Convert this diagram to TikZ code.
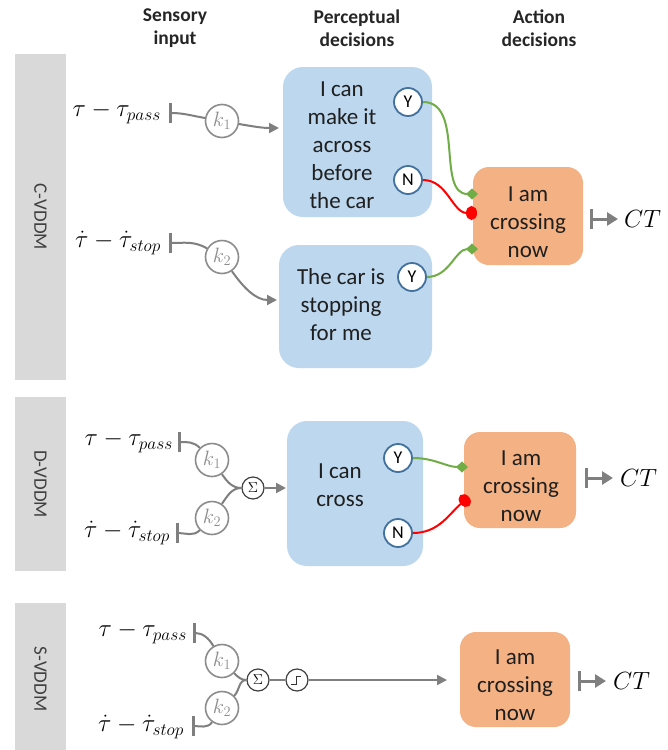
\documentclass[tikz,border=0pt]{standalone}
\usepackage{fontspec}
\setmainfont{Carlito}
\usetikzlibrary{arrows.meta,calc}
\definecolor{bluebox}{HTML}{BDD7EE}
\definecolor{orangebox}{HTML}{F4B183}
\definecolor{greybar}{HTML}{D9D9D9}
\definecolor{conn}{HTML}{7F7F7F}
\definecolor{kgrey}{HTML}{8C8C8C}
\definecolor{ynborder}{HTML}{41719C}
\definecolor{gline}{HTML}{70AD47}
\definecolor{rline}{HTML}{FF0000}
\definecolor{bartext}{HTML}{404040}
\tikzset{
  percbox/.style={fill=bluebox, rounded corners=20pt, inner sep=0pt},
  actbox/.style={fill=orangebox, rounded corners=16pt, inner sep=0pt},
  boxtext/.style={align=center, inner sep=0pt, font=\fontsize{23}{28}\selectfont, text=black!88},
  head/.style={align=center, inner sep=0pt, font=\bfseries\fontsize{19.5}{23}\selectfont, text=black!85},
  sidebar/.style={fill=greybar, inner sep=0pt, minimum width=51pt},
  sidetext/.style={rotate=-90, inner sep=0pt, font=\fontsize{19}{19}\selectfont, text=bartext},
  yn/.style={circle, draw=ynborder, line width=1.8pt, fill=white, minimum size=28pt, inner sep=0pt, font=\fontsize{18}{18}\selectfont},
  kcirc/.style={circle, draw=kgrey, line width=1.6pt, fill=white, minimum size=33pt, inner sep=0pt, text=kgrey, font=\fontsize{21}{21}\selectfont},
  smallcirc/.style={circle, draw=black!75, line width=1.2pt, fill=white, minimum size=22pt, inner sep=0pt, font=\fontsize{15}{15}\selectfont},
  inlabel/.style={anchor=east, inner sep=0pt, font=\fontsize{24}{24}\selectfont},
  ctlabel/.style={anchor=west, inner sep=0pt, font=\fontsize{24}{24}\selectfont},
  teeline/.style={draw=conn, line width=2pt, {Bar[width=20pt,line width=3pt]}-},
  kline/.style={draw=conn, line width=2pt},
  karrow/.style={draw=conn, line width=2pt, -{Triangle[length=10pt,width=10pt]}},
  outarrow/.style={draw=conn, line width=3pt, {Bar[width=20pt]}-{Triangle[length=11pt,width=13pt]}},
  yesline/.style={draw=gline, line width=2pt, -{Diamond[length=12pt,width=11pt]}},
  noline/.style={draw=rline, line width=2pt, -{Circle[length=11pt,width=14pt]}},
}
\begin{document}
\begin{tikzpicture}[x=1pt,y=1pt]
\useasboundingbox (0,0) rectangle (667,-750);
\fill[white] (0,0) rectangle (667,-750);

% headers
\node[head] (hsens) at (175,-28) {Sensory\\input};
\node[head] (hperc) at (357,-28) {Perceptual\\decisions};
\node[head] (hact) at (539,-28) {Action\\decisions};

% side bars
\node[sidebar, minimum height=326pt] (barC) at (40.5,-217) {};
\node[sidetext] (barCt) at (barC.center) {C-VDDM};
\node[sidebar, minimum height=174pt] (barD) at (40.5,-484) {};
\node[sidetext] (barDt) at (barD.center) {D-VDDM};
\node[sidebar, minimum height=147pt] (barS) at (40.5,-676.5) {};
\node[sidetext] (barSt) at (40.5,-679) {S-VDDM};

% ================= C-VDDM =================
\node[inlabel] (passC) at (161,-113) {$\tau-\tau_{pass}$};
\node[inlabel] (stopC) at (161,-243) {$\dot{\tau}-\dot{\tau}_{stop}$};
\coordinate (teeC1) at (169,-113);
\coordinate (teeC2) at (169,-243);
\node[kcirc] (k1C) at (222,-121) {$k_1$};
\node[kcirc] (k2C) at (222,-257) {$k_2$};
\node[percbox, minimum width=149pt, minimum height=150pt] (box1) at (357.5,-142) {};
\node[boxtext] (box1t) at (342,-145) {I can\\make it\\across\\before\\the car};
\node[yn] (Y1C) at (408,-102) {Y};
\node[yn] (N1C) at (408,-180) {N};
\node[percbox, minimum width=153pt, minimum height=123pt] (box2) at (355.5,-306.5) {};
\node[boxtext] (box2t) at (341,-305) {The car is\\stopping\\for me};
\node[yn] (Y2C) at (412,-277) {Y};
\node[actbox, minimum width=110pt, minimum height=98pt] (actC) at (528,-216) {};
\node[boxtext] (actCt) at (528,-222) {I am\\crossing\\now};
\coordinate (aC1) at (279,-128);
\coordinate (aC2) at (277,-300);
\coordinate (g1) at (478,-194);
\coordinate (r1) at (477,-213);
\coordinate (g2) at (478,-249);
\coordinate (oC1) at (590,-219);
\coordinate (oC2) at (618,-219);
\node[ctlabel] (ctC) at (624,-219) {$CT$};

\draw[teeline] (teeC1) to[out=0,in=170] (k1C.170);
\draw[karrow] (k1C.-10) to[out=-10,in=180] (aC1);
\draw[teeline] (teeC2) to[out=0,in=150] (k2C.150);
\draw[karrow] (k2C.-55) to[out=-55,in=180] (aC2);
\draw[yesline] (Y1C.east) to[out=0,in=180] (g1);
\draw[noline] (N1C.east) to[out=0,in=180] (r1);
\draw[yesline] (Y2C.east) to[out=0,in=180] (g2);
\draw[outarrow] (oC1) -- (oC2);

% ================= D-VDDM =================
\node[inlabel] (passD) at (173,-442) {$\tau-\tau_{pass}$};
\node[inlabel] (stopD) at (170,-533) {$\dot{\tau}-\dot{\tau}_{stop}$};
\coordinate (teeD1) at (178,-442);
\coordinate (teeD2) at (176,-533);
\node[kcirc] (k1D) at (212,-460) {$k_1$};
\node[kcirc] (k2D) at (212,-518) {$k_2$};
\node[smallcirc] (sigD) at (253,-488) {$\Sigma$};
\node[percbox, minimum width=136pt, minimum height=145pt] (boxD) at (355,-493.5) {};
\node[boxtext] (boxDt) at (340,-485) {I can\\cross};
\node[yn] (YD) at (398,-458) {Y};
\node[yn] (ND) at (398,-533) {N};
\node[actbox, minimum width=112pt, minimum height=96pt] (actD) at (520,-480) {};
\node[boxtext] (actDt) at (521,-486) {I am\\crossing\\now};
\coordinate (aD) at (286,-488);
\coordinate (gD) at (468,-467);
\coordinate (rD) at (469,-497);
\coordinate (oD1) at (585,-478);
\coordinate (oD2) at (613,-478);
\node[ctlabel] (ctD) at (620,-478) {$CT$};

\draw[teeline] (teeD1) to[out=0,in=135] (k1D.135);
\draw[teeline] (teeD2) to[out=0,in=-135] (k2D.-135);
\draw[kline] (k1D.-55) to[out=-55,in=180] (sigD.west);
\draw[kline] (k2D.55) to[out=55,in=180] (sigD.west);
\draw[karrow] (sigD.east) -- (aD);
\draw[yesline] (YD.east) to[out=0,in=180] (gD);
\draw[noline] (ND.east) to[out=0,in=220] (rD);
\draw[outarrow] (oD1) -- (oD2);

% ================= S-VDDM =================
\node[inlabel] (passS) at (187,-633) {$\tau-\tau_{pass}$};
\node[inlabel] (stopS) at (184,-727) {$\dot{\tau}-\dot{\tau}_{stop}$};
\coordinate (teeS1) at (193,-633);
\coordinate (teeS2) at (192,-726);
\node[kcirc] (k1S) at (222,-661) {$k_1$};
\node[kcirc] (k2S) at (222,-708) {$k_2$};
\node[smallcirc] (sigS) at (258,-680) {$\Sigma$};
\node[smallcirc] (stepS) at (297,-680) {};
\draw[black!80, line width=1pt] ([shift={(-6,-4)}]stepS.center) -- ++(5,0) -- ++(0,8) -- ++(5,0);
\node[actbox, minimum width=110pt, minimum height=95pt] (actS) at (515,-679.5) {};
\node[boxtext] (actSt) at (515,-685) {I am\\crossing\\now};
\coordinate (aS) at (447,-680);
\coordinate (oS1) at (578,-681);
\coordinate (oS2) at (606,-681);
\node[ctlabel] (ctS) at (613,-681) {$CT$};

\draw[teeline] (teeS1) to[out=0,in=120] (k1S.120);
\draw[teeline] (teeS2) to[out=0,in=-125] (k2S.-125);
\draw[kline] (k1S.-45) to[out=-45,in=180] (sigS.west);
\draw[kline] (k2S.45) to[out=45,in=180] (sigS.west);
\draw[kline] (sigS.east) -- (stepS.west);
\draw[karrow] (stepS.east) -- (aS);
\draw[outarrow] (oS1) -- (oS2);
\end{tikzpicture}
\end{document}
